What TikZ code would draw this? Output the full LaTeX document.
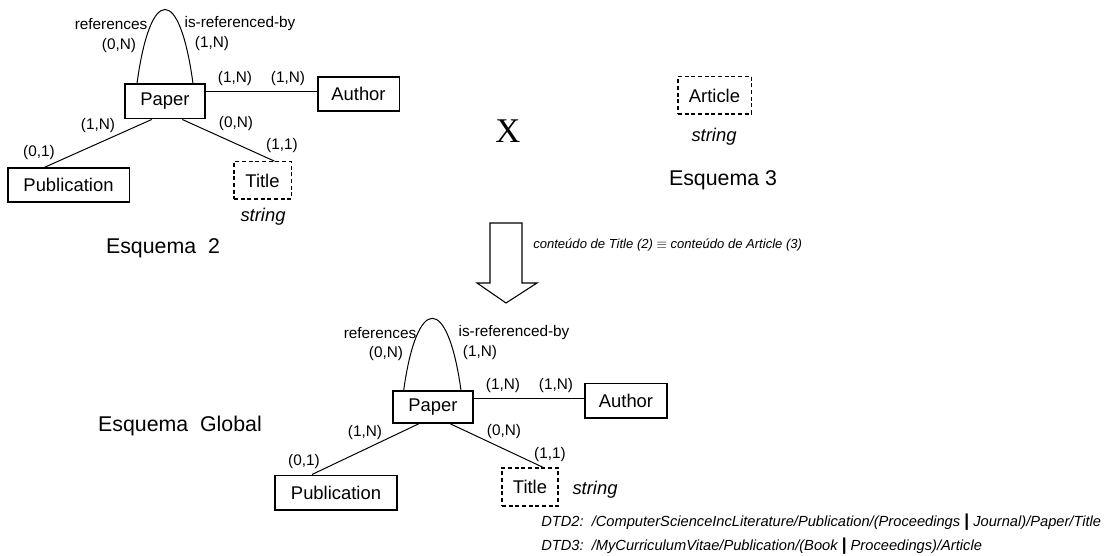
\documentclass[tikz,border=0pt]{standalone}
\usepackage{fontspec}
\setmainfont{Liberation Sans}
\newfontfamily\crossfont{Liberation Serif}

\begin{document}
\begin{tikzpicture}[
  x=0.75pt, y=-0.75pt,
  entity/.style={draw, line width=1pt, inner sep=0pt, minimum height=25.5pt, font=\fontsize{13.8}{16}\selectfont},
  attrib/.style={entity, dash pattern=on 3pt off 2pt, minimum height=28pt},
  card/.style={inner sep=1pt, font=\fontsize{11.5}{13}\selectfont},
  kind/.style={inner sep=1pt, font=\fontsize{13.8}{16}\selectfont\itshape},
  schema/.style={inner sep=1pt, font=\fontsize{16}{18}\selectfont},
  note/.style={inner sep=0pt, anchor=west, font=\fontsize{11}{12}\selectfont\itshape},
  link/.style={line width=0.75pt}
]
\useasboundingbox (0,0) rectangle (1107,556);

% Esquema 2
\node[entity, minimum width=60pt, minimum height=26pt] (paper2) at (165,101.5) {Paper};
\node[entity, minimum width=61pt] (author2) at (358.5,94) {Author};
\node[entity, minimum width=91pt] (pub2) at (68.5,185) {Publication};
\node[attrib, minimum width=43pt] (title2) at (262.5,180.5) {Title};
\node[kind] (type2) at (263,217) {string};
\node[schema] (esq2) at (163,248) {Esquema\ \ 2};

\node[card] (refs2) at (111,24) {references};
\node[card] (refby2) at (240,24) {is-referenced-by};
\node[card] (refsc2) at (119,46) {(0,N)};
\node[card] (refbyc2) at (212,44) {(1,N)};
\node[card] (pa2) at (235,79) {(1,N)};
\node[card] (ap2) at (288,79) {(1,N)};
\node[card] (pp2) at (98,126) {(1,N)};
\node[card] (ppub2) at (39,153) {(0,1)};
\node[card] (pt2) at (236,124) {(0,N)};
\node[card] (tp2) at (282,146) {(1,1)};

\draw[link] ([xshift=-21pt]paper2.north) .. controls +(10pt,74pt) and +(-10pt,74pt) .. ([xshift=21pt]paper2.north);
\draw[link] ([yshift=7.5pt]paper2.east) -- ([yshift=7.5pt]paper2.east -| author2.west);
\draw[link] ([xshift=-10pt]paper2.south) -- ([xshift=-18pt]pub2.north);
\draw[link] ([xshift=13pt]paper2.south) -- ([xshift=9pt]title2.north);

% Esquema 3
\node[font=\crossfont\fontsize{26}{28}\selectfont] (cross) at (508,131) {X};
\node[attrib, minimum width=55pt, minimum height=28pt] (article3) at (714.5,95.5) {Article};
\node[kind] (type3) at (714,137) {string};
\node[schema] (esq3) at (723,180) {Esquema 3};

% integracao
\draw[line width=0.8pt] (490,223) -- (522,223) -- (522,283) -- (537,283) -- (506,303)
  -- (477,283) -- (490,283) -- cycle;
\node[note, font=\fontsize{9.8}{12}\selectfont\itshape] (equiv) at (533,245) {conteúdo de Title (2) {\upshape$\equiv$} conteúdo de Article (3)};

% Esquema Global
\node[entity, minimum width=60pt, minimum height=24pt] (paperG) at (433,407) {Paper};
\node[entity, minimum width=61.5pt, minimum height=26pt] (authorG) at (626,400.5) {Author};
\node[entity, minimum width=91.5pt, minimum height=26pt] (pubG) at (336,492.5) {Publication};
\node[attrib, minimum width=42pt, minimum height=28.5pt] (titleG) at (530,487) {Title};
\node[kind] (typeG) at (595,490) {string};
\node[schema] (esqG) at (180,426) {Esquema\ \ Global};

\node[card] (refsG) at (380,333) {references};
\node[card] (refbyG) at (514,333) {is-referenced-by};
\node[card] (refscG) at (386,354) {(0,N)};
\node[card] (refbycG) at (480,353) {(1,N)};
\node[card] (paG) at (503,386) {(1,N)};
\node[card] (apG) at (556,386) {(1,N)};
\node[card] (ppG) at (365,433) {(1,N)};
\node[card] (ppubG) at (304,462) {(0,1)};
\node[card] (ptG) at (504,432) {(0,N)};
\node[card] (tpG) at (550,455) {(1,1)};

\draw[link] ([xshift=-22pt]paperG.north) .. controls +(10pt,72pt) and +(-10pt,72pt) .. ([xshift=21pt]paperG.north);
\draw[link] ([yshift=6.75pt]paperG.east) -- ([yshift=6.75pt]paperG.east -| authorG.west);
\draw[link] ([xshift=-10.5pt]paperG.south) -- ([xshift=-18pt]pubG.north);
\draw[link] ([xshift=12.75pt]paperG.south) -- ([xshift=9.75pt]titleG.north);

% caminhos nas DTDs
\node[note] (dtd2) at (541,522) {DTD2:\ \ /ComputerScienceIncLiterature/Publication/(Proceedings {\upshape\bfseries\fontsize{13}{13}\selectfont|} Journal)/Paper/Title};
\node[note] (dtd3) at (541,546) {DTD3:\ \ /MyCurriculumVitae/Publication/(Book {\upshape\bfseries\fontsize{13}{13}\selectfont|} Proceedings)/Article};

\end{tikzpicture}
\end{document}
